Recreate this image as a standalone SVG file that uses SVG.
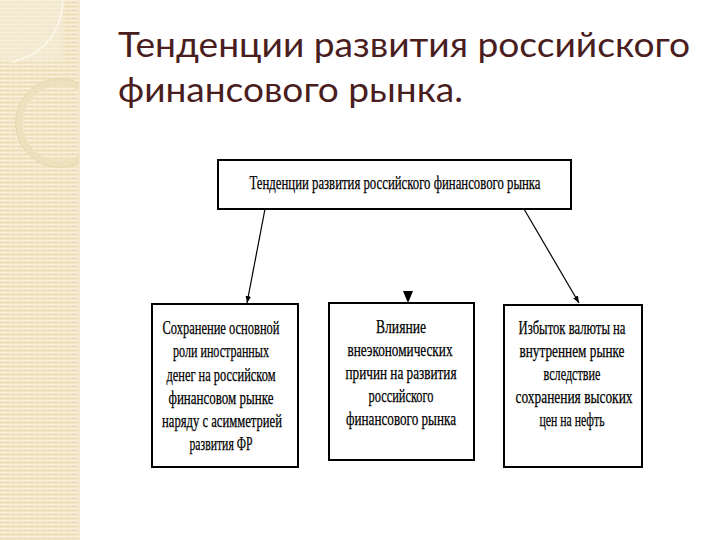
<svg xmlns="http://www.w3.org/2000/svg" width="720" height="540" viewBox="0 0 720 540">
<defs>
<pattern id="stripes" width="6" height="4" patternUnits="userSpaceOnUse">
<rect width="6" height="4" fill="#f1e5c6"/>
<rect y="0" width="6" height="1" fill="#f8f1dd"/>
<rect y="2" width="3" height="1" fill="#e9dab4"/>
</pattern>
<clipPath id="sideclip"><rect x="0" y="0" width="80" height="540"/></clipPath>
<marker id="arr" viewBox="0 0 10 10" refX="10" refY="5" markerWidth="7" markerHeight="7" orient="auto" markerUnits="userSpaceOnUse">
<path d="M0,1 L10,5 L0,9 Z" fill="#000"/>
</marker>
<style>
.box{fill:#fff;stroke:#000;stroke-width:2}
.t{font-family:"Liberation Serif","Times New Roman",serif;font-size:19px;fill:#000;stroke:#000;stroke-width:0.25;text-anchor:middle}
.title{font-family:Lato,"Open Sans",sans-serif;font-size:35px;fill:#4a1e1e}
.con{stroke:#000;stroke-width:1.2;fill:none}
</style>
</defs>
<rect width="720" height="540" fill="#fff"/>
<g id="sidebar" clip-path="url(#sideclip)">
<rect x="0" y="0" width="80" height="540" fill="url(#stripes)"/>
<rect x="0" y="0" width="63" height="62" fill="#f5ecd6" opacity="0.7"/>
<path d="M63,0 Q60,50 12,62" fill="none" stroke="#faf5e6" stroke-width="2"/>
<circle cx="60" cy="123" r="41" fill="none" stroke="#ece0bd" stroke-width="7"/>
<circle cx="60" cy="123" r="44.5" fill="none" stroke="#e3d3a8" stroke-width="0.8"/>
<rect x="79" y="0" width="1" height="540" fill="#f3ead2"/>
</g>
<g id="title">
<text class="title" x="118" y="57" textLength="572" lengthAdjust="spacingAndGlyphs">Тенденции развития российского</text>
<text class="title" x="118" y="102" textLength="345" lengthAdjust="spacingAndGlyphs">финансового рынка.</text>
</g>
<g id="connectors">
<line class="con" x1="265" y1="209" x2="247" y2="303" marker-end="url(#arr)"/>
<path d="M403,291 L413,291 L408,303 Z" fill="#000"/>
<line class="con" x1="524" y1="209" x2="579" y2="303" marker-end="url(#arr)"/>
</g>
<g id="node-top">
<rect class="box" x="218" y="160" width="353" height="49"/>
<text class="t" x="395" y="189" textLength="291" lengthAdjust="spacingAndGlyphs">Тенденции развития российского финансового рынка</text>
</g>
<g id="node-left">
<rect class="box" x="152" y="304" width="146" height="163"/>
<text class="t" x="221" y="334" textLength="117" lengthAdjust="spacingAndGlyphs">Сохранение основной</text>
<text class="t" x="221" y="357" textLength="96" lengthAdjust="spacingAndGlyphs">роли иностранных</text>
<text class="t" x="221" y="381" textLength="109" lengthAdjust="spacingAndGlyphs">денег на российском</text>
<text class="t" x="221" y="404" textLength="105" lengthAdjust="spacingAndGlyphs">финансовом рынке</text>
<text class="t" x="222" y="427" textLength="120" lengthAdjust="spacingAndGlyphs">наряду с асимметрией</text>
<text class="t" x="221" y="450" textLength="63" lengthAdjust="spacingAndGlyphs">развития ФР</text>
</g>
<g id="node-middle">
<rect class="box" x="329" y="303" width="145" height="157"/>
<text class="t" x="401" y="333" textLength="50" lengthAdjust="spacingAndGlyphs">Влияние</text>
<text class="t" x="400" y="356" textLength="105" lengthAdjust="spacingAndGlyphs">внеэкономических</text>
<text class="t" x="401" y="379" textLength="111" lengthAdjust="spacingAndGlyphs">причин на развития</text>
<text class="t" x="401" y="402" textLength="65" lengthAdjust="spacingAndGlyphs">российского</text>
<text class="t" x="401" y="425" textLength="110" lengthAdjust="spacingAndGlyphs">финансового рынка</text>
</g>
<g id="node-right">
<rect class="box" x="504" y="305" width="138" height="162"/>
<text class="t" x="572" y="334" textLength="107" lengthAdjust="spacingAndGlyphs">Избыток валюты на</text>
<text class="t" x="572" y="357" textLength="105" lengthAdjust="spacingAndGlyphs">внутреннем рынке</text>
<text class="t" x="572" y="380" textLength="57" lengthAdjust="spacingAndGlyphs">вследствие</text>
<text class="t" x="574" y="403" textLength="117" lengthAdjust="spacingAndGlyphs">сохранения высоких</text>
<text class="t" x="572" y="426" textLength="65" lengthAdjust="spacingAndGlyphs">цен на нефть</text>
</g>
</svg>
